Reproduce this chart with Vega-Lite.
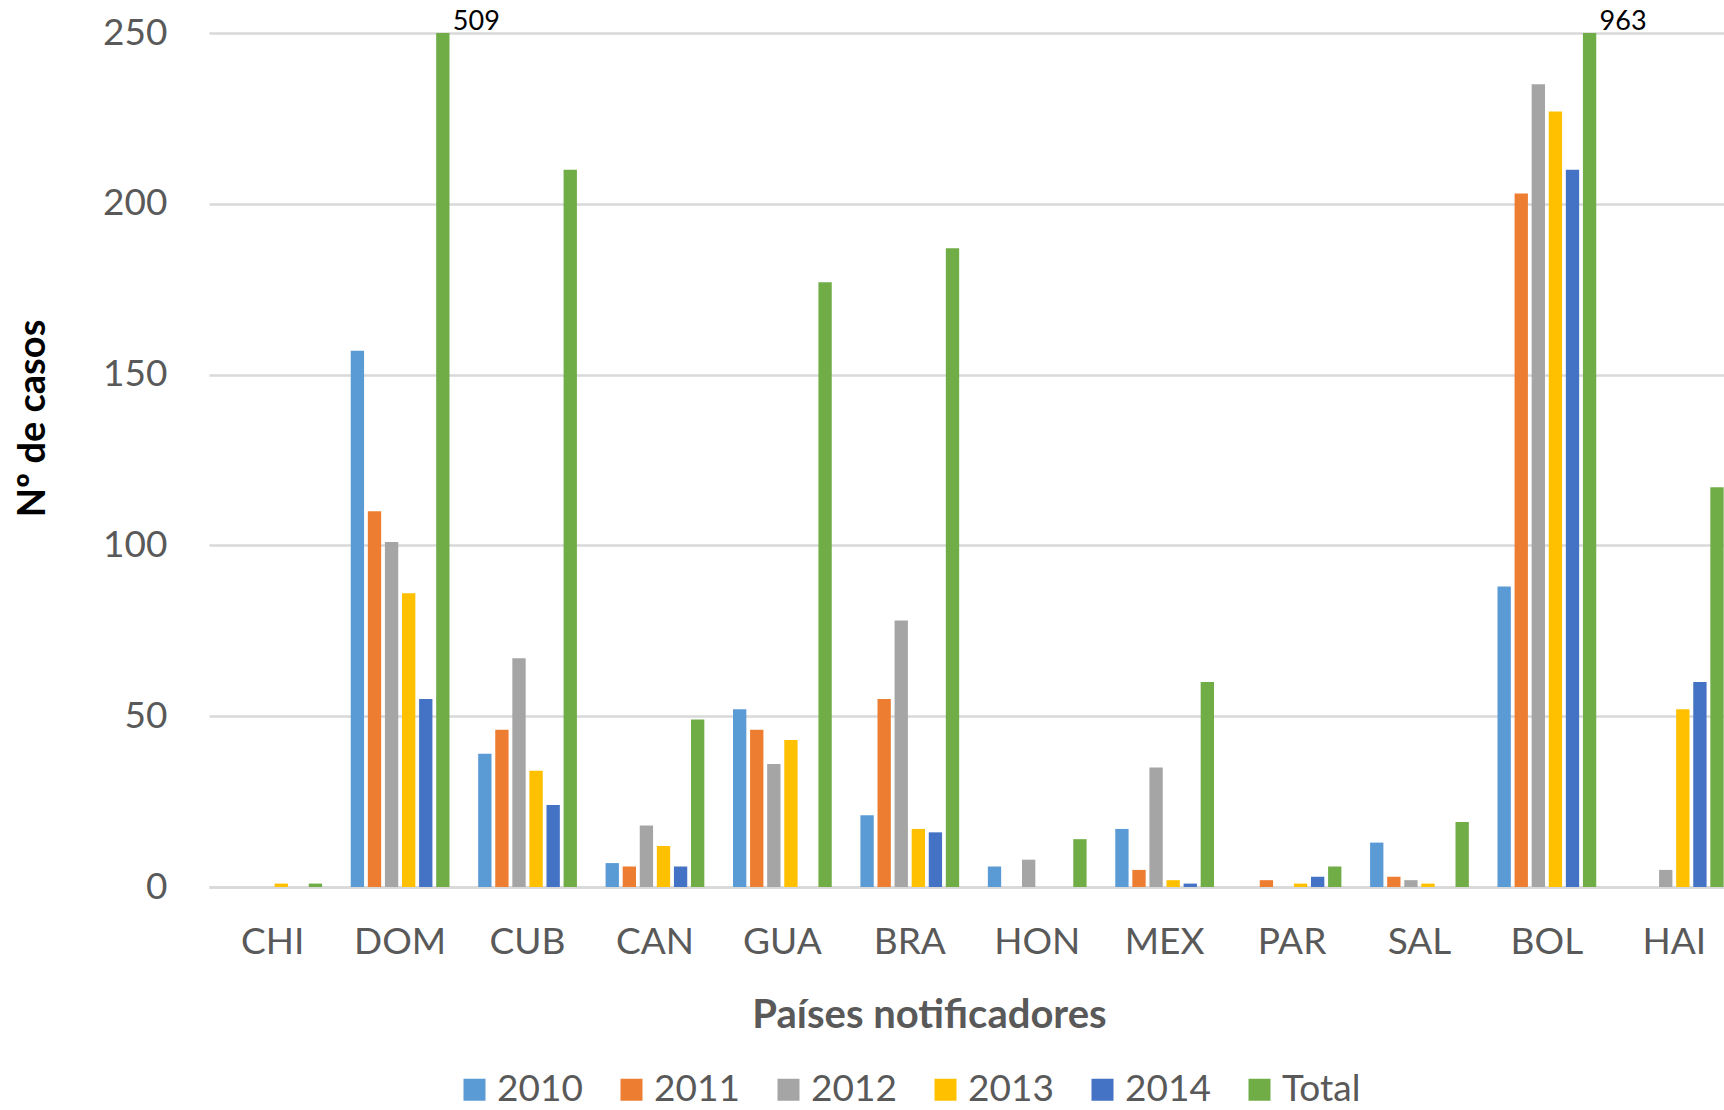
{
  "$schema": "https://vega.github.io/schema/vega-lite/v6.json",
  "autosize": {"type": "none"},
  "width": 1515,
  "height": 854,
  "padding": {"left": 209, "top": 33, "right": 0, "bottom": 223},
  "background": "white",
  "config": {"font": "Lato", "view": {"stroke": null}},
  "data": {"values": [
    {"country": "CHI", "series": "2010", "value": 0},
    {"country": "CHI", "series": "2011", "value": 0},
    {"country": "CHI", "series": "2012", "value": 0},
    {"country": "CHI", "series": "2013", "value": 1},
    {"country": "CHI", "series": "2014", "value": 0},
    {"country": "CHI", "series": "Total", "value": 1},
    {"country": "DOM", "series": "2010", "value": 157},
    {"country": "DOM", "series": "2011", "value": 110},
    {"country": "DOM", "series": "2012", "value": 101},
    {"country": "DOM", "series": "2013", "value": 86},
    {"country": "DOM", "series": "2014", "value": 55},
    {"country": "DOM", "series": "Total", "value": 509},
    {"country": "CUB", "series": "2010", "value": 39},
    {"country": "CUB", "series": "2011", "value": 46},
    {"country": "CUB", "series": "2012", "value": 67},
    {"country": "CUB", "series": "2013", "value": 34},
    {"country": "CUB", "series": "2014", "value": 24},
    {"country": "CUB", "series": "Total", "value": 210},
    {"country": "CAN", "series": "2010", "value": 7},
    {"country": "CAN", "series": "2011", "value": 6},
    {"country": "CAN", "series": "2012", "value": 18},
    {"country": "CAN", "series": "2013", "value": 12},
    {"country": "CAN", "series": "2014", "value": 6},
    {"country": "CAN", "series": "Total", "value": 49},
    {"country": "GUA", "series": "2010", "value": 52},
    {"country": "GUA", "series": "2011", "value": 46},
    {"country": "GUA", "series": "2012", "value": 36},
    {"country": "GUA", "series": "2013", "value": 43},
    {"country": "GUA", "series": "2014", "value": 0},
    {"country": "GUA", "series": "Total", "value": 177},
    {"country": "BRA", "series": "2010", "value": 21},
    {"country": "BRA", "series": "2011", "value": 55},
    {"country": "BRA", "series": "2012", "value": 78},
    {"country": "BRA", "series": "2013", "value": 17},
    {"country": "BRA", "series": "2014", "value": 16},
    {"country": "BRA", "series": "Total", "value": 187},
    {"country": "HON", "series": "2010", "value": 6},
    {"country": "HON", "series": "2011", "value": 0},
    {"country": "HON", "series": "2012", "value": 8},
    {"country": "HON", "series": "2013", "value": 0},
    {"country": "HON", "series": "2014", "value": 0},
    {"country": "HON", "series": "Total", "value": 14},
    {"country": "MEX", "series": "2010", "value": 17},
    {"country": "MEX", "series": "2011", "value": 5},
    {"country": "MEX", "series": "2012", "value": 35},
    {"country": "MEX", "series": "2013", "value": 2},
    {"country": "MEX", "series": "2014", "value": 1},
    {"country": "MEX", "series": "Total", "value": 60},
    {"country": "PAR", "series": "2010", "value": 0},
    {"country": "PAR", "series": "2011", "value": 2},
    {"country": "PAR", "series": "2012", "value": 0},
    {"country": "PAR", "series": "2013", "value": 1},
    {"country": "PAR", "series": "2014", "value": 3},
    {"country": "PAR", "series": "Total", "value": 6},
    {"country": "SAL", "series": "2010", "value": 13},
    {"country": "SAL", "series": "2011", "value": 3},
    {"country": "SAL", "series": "2012", "value": 2},
    {"country": "SAL", "series": "2013", "value": 1},
    {"country": "SAL", "series": "2014", "value": 0},
    {"country": "SAL", "series": "Total", "value": 19},
    {"country": "BOL", "series": "2010", "value": 88},
    {"country": "BOL", "series": "2011", "value": 203},
    {"country": "BOL", "series": "2012", "value": 235},
    {"country": "BOL", "series": "2013", "value": 227},
    {"country": "BOL", "series": "2014", "value": 210},
    {"country": "BOL", "series": "Total", "value": 963},
    {"country": "HAI", "series": "2010", "value": 0},
    {"country": "HAI", "series": "2011", "value": 0},
    {"country": "HAI", "series": "2012", "value": 5},
    {"country": "HAI", "series": "2013", "value": 52},
    {"country": "HAI", "series": "2014", "value": 60},
    {"country": "HAI", "series": "Total", "value": 117}
  ]},
  "layer": [
    {
      "mark": {"type": "bar"},
      "encoding": {
        "x": {
          "field": "country", "type": "nominal",
          "sort": ["CHI","DOM","CUB","CAN","GUA","BRA","HON","MEX","PAR","SAL","BOL","HAI"],
          "title": "Países notificadores",
          "scale": {"range": [0, 1529], "paddingInner": 0.225, "paddingOuter": 0.1125},
          "axis": {
            "labelAngle": 0, "labelFontSize": 37, "labelColor": "#595959", "labelPadding": 37,
            "ticks": false, "domain": true, "domainColor": "#D9D9D9", "domainWidth": 2.5, "grid": false,
            "titleFontSize": 40, "titleFontWeight": "bold", "titleColor": "#595959",
            "titleX": 720, "titleY": 128, "titleBaseline": "middle", "titleAlign": "center"
          }
        },
        "xOffset": {
          "field": "series", "type": "nominal",
          "sort": ["2010","2011","2012","2013","2014","Total"],
          "scale": {"paddingInner": 0.22, "paddingOuter": 0}
        },
        "y": {
          "field": "value", "type": "quantitative",
          "title": "Nº de casos",
          "scale": {"domain": [0, 250], "clamp": true, "nice": false},
          "axis": {
            "values": [0, 50, 100, 150, 200, 250],
            "labelFontSize": 37, "labelColor": "#595959", "labelPadding": 42, "labelFlush": false,
            "ticks": false, "domain": false, "grid": true, "gridColor": "#D9D9D9", "gridWidth": 2.5,
            "titleFontSize": 38, "titleFontWeight": "bold", "titleColor": "black",
            "titleX": -176, "titleY": 385, "titleAngle": -90, "titleBaseline": "middle", "titleAlign": "center"
          }
        },
        "color": {
          "field": "series", "type": "nominal",
          "scale": {
            "domain": ["2010","2011","2012","2013","2014","Total"],
            "range": ["#5B9BD5","#ED7D31","#A5A5A5","#FFC000","#4472C4","#70AD47"]
          },
          "legend": {
            "orient": "none", "direction": "horizontal", "legendX": 247, "legendY": 1038,
            "title": null, "symbolType": "square", "symbolSize": 484, "symbolStrokeWidth": 0,
            "labelFontSize": 37, "labelColor": "#595959", "labelOffset": 4, "columnPadding": 30, "labelLimit": 300
          }
        }
      }
    },
    {
      "transform": [{"filter": "datum.series == 'Total' && datum.value > 250"}],
      "mark": {"type": "text", "align": "left", "baseline": "alphabetic", "dx": 10, "dy": -3, "fontSize": 27, "color": "black"},
      "encoding": {
        "x": {"field": "country", "type": "nominal", "sort": ["CHI","DOM","CUB","CAN","GUA","BRA","HON","MEX","PAR","SAL","BOL","HAI"], "title": "Países notificadores"},
        "xOffset": {"field": "series", "type": "nominal", "sort": ["2010","2011","2012","2013","2014","Total"]},
        "y": {"field": "value", "type": "quantitative", "title": "Nº de casos"},
        "text": {"field": "value", "type": "quantitative"}
      }
    }
  ]
}
